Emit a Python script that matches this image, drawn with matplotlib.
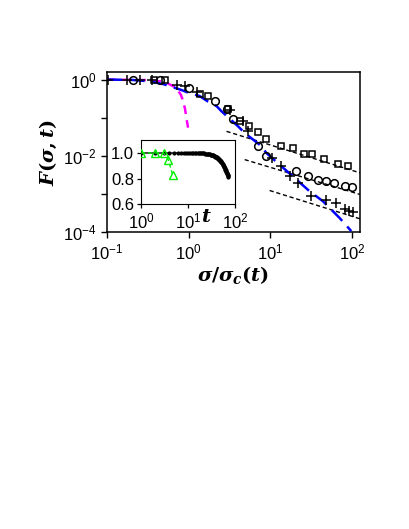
#!/usr/bin/env python3
"""
Scaling collapse F(sigma, t) with survival inset
"""

import matplotlib
matplotlib.use('Agg')
import matplotlib.pyplot as plt
from matplotlib.ticker import NullLocator, FixedLocator

# --- data ---
# squares
sq_x = [0.38, 0.51, 1.36, 1.72, 3.0, 4.2, 5.5, 7.0, 8.9, 13.5, 18.9, 26, 32, 46, 67, 89]
sq_y = [1.0, 0.97, 0.41, 0.38, 0.17, 0.08, 0.06, 0.042, 0.027, 0.018, 0.016, 0.0115, 0.011, 0.0082, 0.0063, 0.0054]
# circles
ci_x = [0.21, 0.45, 1.0, 2.08, 2.9, 3.5, 7.0, 8.9, 20.8, 28.8, 38, 48, 61, 81, 100]
ci_y = [1.0, 0.95, 0.6, 0.27, 0.17, 0.095, 0.018, 0.010, 0.0040, 0.0030, 0.0024, 0.0022, 0.0020, 0.0016, 0.0015]
# plus signs
pl_x = [0.103, 0.176, 0.251, 0.35, 0.71, 0.89, 1.25, 3.2, 4.6, 5.3, 10.5, 13.5, 17.2, 21.8, 31.8, 48.4, 63.6, 81, 93, 102]
pl_y = [1.0, 1.0, 1.0, 1.0, 0.72, 0.68, 0.47, 0.16, 0.08, 0.045, 0.009, 0.0055, 0.003, 0.002, 0.00089, 0.00072, 0.00059, 0.0004, 0.00036, 0.00033]

# blue master curve
blue_x = [0.1, 0.2, 0.33, 0.5, 0.78, 1.0, 1.36, 1.7, 2.2, 2.5, 4.0, 4.84, 7.76, 8.9, 14.3, 20, 30, 44, 70, 98]
blue_y = [1.0, 0.98, 0.9, 0.75, 0.55, 0.45, 0.37, 0.27, 0.2, 0.15, 0.06, 0.04, 0.018, 0.012, 0.0049, 0.0026, 0.0012, 0.00065, 0.00024, 0.000107]

# magenta curve
mag_x = [0.1, 0.3, 0.45, 0.55, 0.7, 0.8, 0.85, 0.9, 0.95, 0.98]
mag_y = [1.0, 0.97, 0.9, 0.8, 0.61, 0.4, 0.28, 0.17, 0.08, 0.055]

# black dashed power laws (start, end)
pow_x = [[2.9, 125], [4.84, 125], [9.8, 125]]
pow_y = [[0.044, 0.0036], [0.008, 0.00098], [0.00124, 0.000225]]

# inset
tri_t = [1, 2, 3, 3.8, 4.7]
tri_y = [1.0, 1.0, 1.0, 0.946, 0.826]
dot_t = list(range(1, 73))
dot_y = ([1.0] * 15 +
         [0.999, 0.999, 0.998, 0.998, 0.997, 0.997, 0.996, 0.995, 0.994, 0.993,
          0.992, 0.991, 0.990, 0.989, 0.987, 0.986, 0.984, 0.983, 0.981, 0.979,
          0.977, 0.975, 0.972, 0.970, 0.967, 0.965, 0.962, 0.959, 0.956, 0.952,
          0.949, 0.945, 0.941, 0.937, 0.933, 0.929, 0.924, 0.920, 0.915, 0.910,
          0.905, 0.900, 0.894, 0.889, 0.883, 0.877, 0.871, 0.864, 0.858, 0.851,
          0.846, 0.841, 0.836, 0.831, 0.826, 0.821, 0.816])

plt.rcParams['font.family'] = ['Liberation Sans Narrow', 'Liberation Sans', 'DejaVu Sans']
plt.rcParams['mathtext.fontset'] = 'custom'
plt.rcParams['mathtext.it'] = 'DejaVu Serif:italic:bold'
plt.rcParams['mathtext.rm'] = 'DejaVu Serif:bold'
plt.rcParams['xtick.direction'] = 'out'
plt.rcParams['ytick.direction'] = 'out'


def pow10(e):
    return r'$\mathdefault{10^{%d}}$' % e


fig = plt.figure(figsize=(4.09, 5.29), dpi=100)
ax = fig.add_axes([0.262, 0.561, 0.618, 0.303])

ax.plot(mag_x, mag_y, color='magenta', linestyle=(0, (3.5, 2.5)), linewidth=1.8, zorder=3)
ax.plot(blue_x, blue_y, color='blue', linestyle=(0, (6, 3)), linewidth=1.8, zorder=3)
for px_, py_ in zip(pow_x, pow_y):
    ax.plot(px_, py_, color='black', linestyle=(0, (3, 2)), linewidth=1.0, zorder=2)

mk = dict(linestyle='none', color='black', markerfacecolor='none', markeredgewidth=1.1, zorder=4)
ax.plot(sq_x, sq_y, marker='s', markersize=5, **mk)
ax.plot(ci_x, ci_y, marker='o', markersize=5.5, **mk)
ax.plot(pl_x, pl_y, marker='+', markersize=7, **mk)

ax.set_xscale('log')
ax.set_yscale('log')
ax.set_xlim(0.1, 125)
ax.set_ylim(1e-4, 10 ** 0.2)
ax.xaxis.set_major_locator(FixedLocator([0.1, 1, 10, 100]))
ax.xaxis.set_minor_locator(NullLocator())
ax.set_xticklabels([pow10(-1), pow10(0), pow10(1), pow10(2)])
ax.yaxis.set_major_locator(FixedLocator([1e-4, 1e-3, 1e-2, 1e-1, 1]))
ax.yaxis.set_minor_locator(NullLocator())
ax.set_yticklabels([pow10(-4), '', pow10(-2), '', pow10(0)])
ax.tick_params(labelsize=12, width=1.0, length=4)
for sp in ax.spines.values():
    sp.set_linewidth(1.1)

ax.set_xlabel(r'$\sigma/\sigma_c(t)$', fontsize=14, labelpad=1)
ax.set_ylabel(r'$F(\sigma,t)$', fontsize=14, labelpad=3)

# inset
ins = fig.add_axes([0.345, 0.614, 0.23, 0.121])
ins.plot(dot_t, dot_y, color='black', marker='.', markersize=4, linewidth=1.0, zorder=2)
ins.plot(tri_t, tri_y, color='#00ee00', marker='^', markerfacecolor='none',
         markersize=5.5, linestyle=(0, (3, 2)), linewidth=1.0, zorder=3)
ins.set_xscale('log')
ins.set_xlim(1, 100)
ins.set_ylim(0.6, 1.1)
ins.xaxis.set_major_locator(FixedLocator([1, 10, 100]))
ins.xaxis.set_minor_locator(NullLocator())
ins.set_xticklabels([pow10(0), pow10(1), pow10(2)])
ins.yaxis.set_major_locator(FixedLocator([0.6, 0.8, 1.0]))
ins.set_yticklabels(['0.6', '0.8', '1.0'])
ins.tick_params(labelsize=12, width=0.9, length=3, pad=2)
ins.text(0.69, -0.21, r'$t$', transform=ins.transAxes, fontsize=14,
         ha='center', va='center')

plt.savefig('out.png', dpi=100)
plt.close()
